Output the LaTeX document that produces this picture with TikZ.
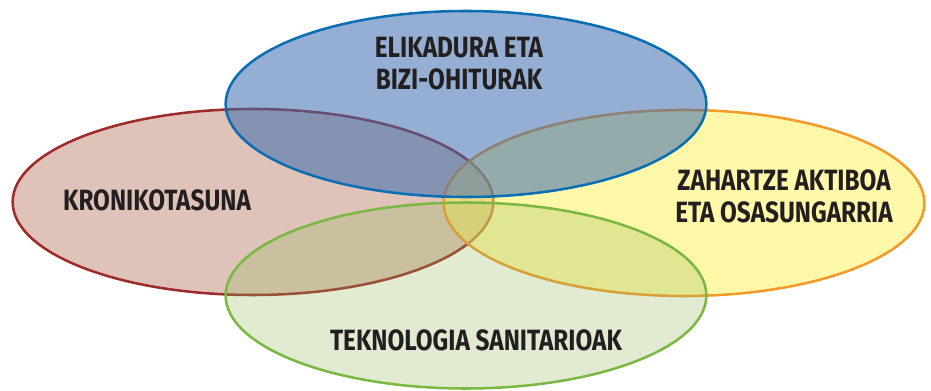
\documentclass[tikz,border=0pt]{standalone}
\usepackage{fontspec}
\setmainfont{Fira Sans}
\newfontfamily\labfont[FakeStretch=0.83]{Fira Sans Bold}
\usetikzlibrary{shapes.geometric}
\definecolor{redfill}{HTML}{E0C3B8}
\definecolor{redline}{HTML}{9E2A2B}
\definecolor{yelfill}{HTML}{FFF258}
\definecolor{yelline}{HTML}{F39A2B}
\definecolor{grnfill}{HTML}{90B559}
\definecolor{grnline}{HTML}{7AB843}
\definecolor{blufill}{HTML}{3C6DAE}
\definecolor{bluline}{HTML}{0A6EB4}
\definecolor{txt}{HTML}{231F20}
\tikzset{
  oval/.style={ellipse, minimum width=360.5pt, minimum height=139.5pt, inner sep=0pt, line width=1.9pt},
  lab/.style={inner sep=0pt, align=center, text=txt, font=\labfont\fontsize{22}{24}\selectfont}
}
\begin{document}
\begin{tikzpicture}[x=0.75pt,y=-0.75pt]
\useasboundingbox (0,0) rectangle (931,391);
\node[oval, draw=redline, fill=redfill] (kron) at (253,202) {};
\node[oval, draw=yelline, fill=yelfill, fill opacity=0.52] (zahar) at (684,203) {};
\node[oval, draw=grnline, fill=grnfill, fill opacity=0.27] (tekno) at (466,295.5) {};
\node[oval, draw=bluline, fill=blufill, fill opacity=0.55] (elik) at (466,104) {};
\node[lab] (elikt) at (459,64) {ELIKADURA ETA\\BIZI-OHITURAK};
\node[lab] (kront) at (157,200.7) {KRONIKOTASUNA};
\node[lab] (zahart) at (784,196) {ZAHARTZE AKTIBOA\\ETA OSASUNGARRIA};
\node[lab] (teknot) at (476,340) {TEKNOLOGIA SANITARIOAK};
\end{tikzpicture}
\end{document}
